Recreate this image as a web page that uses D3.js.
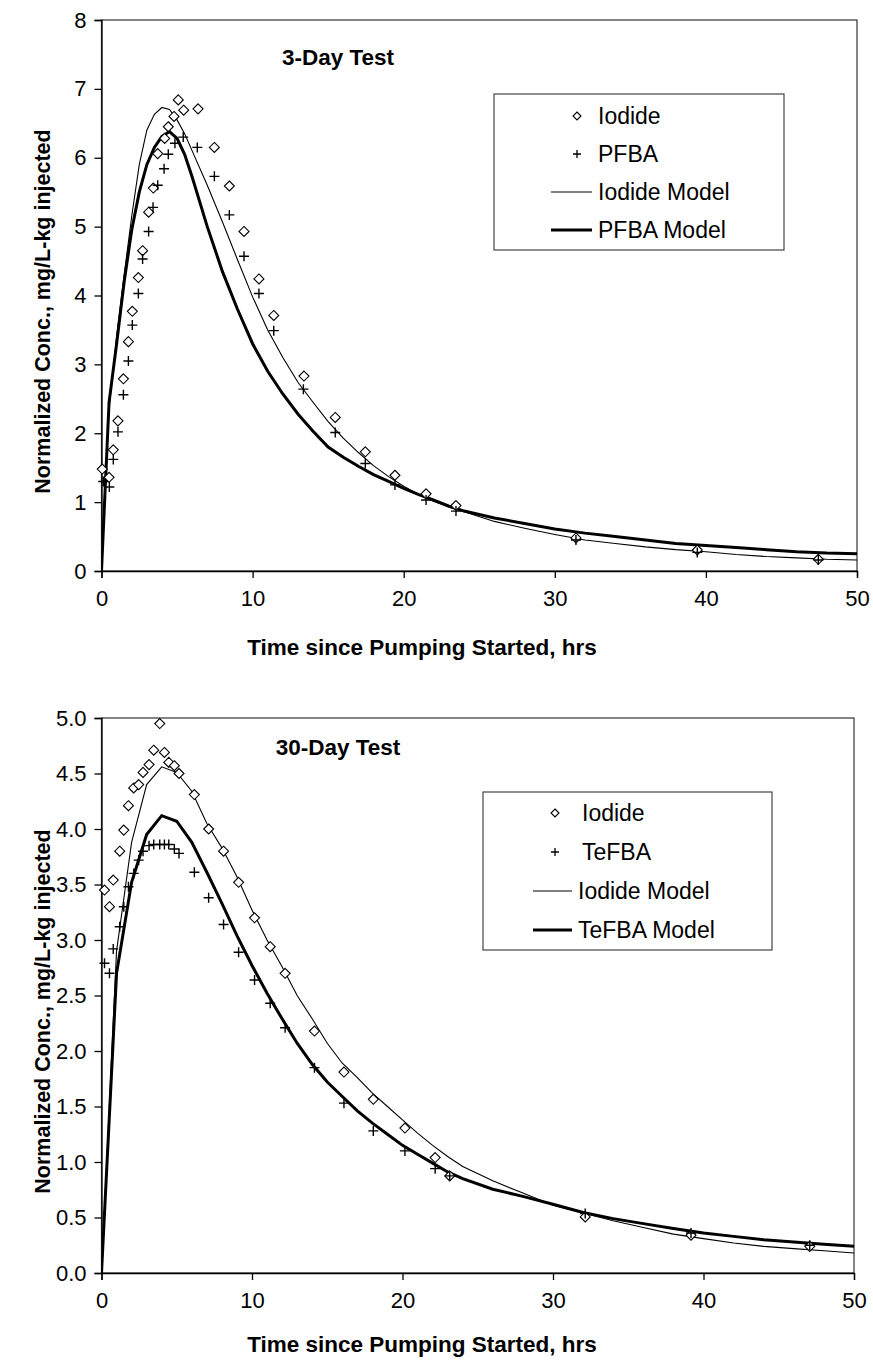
<!DOCTYPE html>
<html>
<head>
<meta charset="utf-8">
<script src="https://cdn.jsdelivr.net/npm/d3@7"></script>
<style>
  body { margin: 0; background: #fff; }
  svg { display: block; font-family: "Liberation Sans", Arial, sans-serif; }
  .axis path, .axis line { stroke: #000; stroke-width: 1.3; }
  .axis text { font-size: 22px; fill: #000; }
</style>
</head>
<body>
<div id="graphic"></div>
<script>
// ---- 3-day test data ----
var iodide3X = [0.05,0.5,0.78,1.09,1.45,1.78,2.04,2.44,2.72,3.12,3.43,3.72,4.18,4.42,4.80,5.08,5.44,6.39,7.47,8.46,9.43,10.42,11.40,13.4,15.47,17.46,19.42,21.48,23.46,31.4,39.43,47.44];
var iodide3Y = [1.48,1.36,1.76,2.18,2.79,3.33,3.77,4.26,4.65,5.21,5.56,6.06,6.28,6.45,6.60,6.84,6.69,6.71,6.15,5.59,4.93,4.24,3.71,2.83,2.23,1.73,1.39,1.12,0.95,0.48,0.305,0.17];
var pfbaX = [0.12,0.52,0.78,1.09,1.45,1.78,2.04,2.44,2.72,3.12,3.41,3.72,4.14,4.42,4.86,5.41,6.34,7.47,8.46,9.43,10.42,11.40,13.36,15.47,17.46,19.42,21.48,23.46,31.4,39.43,47.44];
var pfbaY = [1.30,1.22,1.62,2.02,2.56,3.05,3.57,4.03,4.53,4.93,5.28,5.60,5.84,6.05,6.21,6.30,6.15,5.73,5.17,4.57,4.03,3.49,2.64,2.01,1.56,1.25,1.03,0.87,0.45,0.27,0.16];

var model3X = [0,0.5,1,1.5,2,2.5,3,3.5,4,4.5,5,5.5,6,7,8,9,10,11,12,13,14,15,16,17,18,19,20,21,22,23,24,26,28,30,32,34,36,38,40,42,44,46,48,50];
var iodideModel3Y = [0,2.35,3.4,4.3,5.15,5.9,6.4,6.63,6.73,6.7,6.55,6.35,6.1,5.6,5.07,4.52,3.98,3.5,3.1,2.74,2.45,2.17,1.93,1.72,1.53,1.37,1.23,1.11,1.01,0.93,0.86,0.72,0.62,0.53,0.45,0.4,0.35,0.31,0.28,0.24,0.21,0.19,0.17,0.16];
var pfbaModel3Y = [0,2.45,3.3,4.2,4.95,5.5,5.9,6.15,6.31,6.38,6.28,6.05,5.72,5.0,4.35,3.8,3.3,2.9,2.57,2.28,2.03,1.8,1.65,1.52,1.4,1.3,1.2,1.11,1.03,0.94,0.87,0.77,0.69,0.61,0.55,0.5,0.45,0.4,0.37,0.34,0.31,0.28,0.26,0.25];

// ---- 30-day test data ----
var iodide30X = [0.2,0.53,0.78,1.21,1.48,1.79,2.14,2.47,2.76,3.16,3.47,3.87,4.18,4.47,4.84,5.15,6.17,7.12,8.11,9.11,10.17,11.21,12.2,14.15,16.11,18.06,20.16,22.17,23.14,32.14,39.17,47.06];
var iodide30Y = [3.45,3.30,3.54,3.80,3.99,4.21,4.37,4.40,4.51,4.58,4.71,4.95,4.69,4.60,4.57,4.50,4.31,4.00,3.80,3.52,3.20,2.94,2.70,2.18,1.81,1.565,1.306,1.04,0.875,0.505,0.34,0.24];
var tefbaX = [0.2,0.53,0.78,1.21,1.48,1.79,2.14,2.47,2.76,3.16,3.47,3.87,4.18,4.47,4.84,5.15,6.17,7.12,8.11,9.11,10.17,11.21,12.2,14.15,16.11,18.06,20.16,22.17,23.14,32.14,39.17,47.06];
var tefbaY = [2.79,2.70,2.92,3.12,3.30,3.48,3.60,3.72,3.80,3.85,3.86,3.86,3.86,3.86,3.82,3.78,3.61,3.38,3.14,2.89,2.64,2.43,2.21,1.85,1.53,1.28,1.10,0.94,0.875,0.535,0.36,0.25];

var model30X = [0,1,2,3,4,5,6,7,8,9,10,11,12,13,14,15,16,17,18,19,20,21,22,23,24,26,28,30,32,34,36,38,40,42,44,46,48,50];
var iodideModel30Y = [0,2.9,3.88,4.4,4.56,4.51,4.34,4.05,3.83,3.57,3.27,3.0,2.76,2.5,2.29,2.07,1.89,1.76,1.62,1.5,1.38,1.26,1.15,1.05,0.96,0.83,0.72,0.61,0.54,0.47,0.41,0.35,0.31,0.27,0.24,0.22,0.2,0.18];
var tefbaModel30Y = [0,2.7,3.52,3.95,4.12,4.07,3.88,3.61,3.33,3.04,2.77,2.52,2.29,2.07,1.88,1.72,1.59,1.46,1.35,1.25,1.15,1.07,0.99,0.91,0.85,0.755,0.69,0.62,0.545,0.49,0.445,0.4,0.36,0.33,0.3,0.28,0.26,0.24];

var xTicks = [0,10,20,30,40,50];
var yTicks3 = [0,1,2,3,4,5,6,7,8];
var yTicks30 = [0,0.5,1,1.5,2,2.5,3,3.5,4,4.5,5];

function zip(xs, ys) {
  return xs.map(function(x, i) { return {x: x, y: ys[i]}; });
}

var svg = d3.select("#graphic").append("svg")
  .attr("width", 873)
  .attr("height", 1364);

function drawChart(cfg) {
  var x = d3.scaleLinear().domain([0, 50]).range([cfg.left, cfg.right]);
  var y = d3.scaleLinear().domain([0, cfg.yMax]).range([cfg.bottom, cfg.top]);

  var g = svg.append("g");

  // plot area border
  g.append("rect")
    .attr("x", cfg.left).attr("y", cfg.top)
    .attr("width", cfg.right - cfg.left)
    .attr("height", cfg.bottom - cfg.top)
    .style("fill", "none")
    .style("stroke", "#333")
    .style("stroke-width", 1.2);

  g.append("g")
    .attr("class", "axis")
    .attr("transform", "translate(0," + cfg.bottom + ")")
    .call(d3.axisBottom(x).tickValues(xTicks).tickSizeOuter(0).tickSize(7).tickPadding(12));

  g.append("g")
    .attr("class", "axis")
    .attr("transform", "translate(" + cfg.left + ",0)")
    .call(d3.axisLeft(y).tickValues(cfg.yTicks).tickFormat(d3.format(cfg.yFmt))
      .tickSizeOuter(0).tickSize(7).tickPadding(8));

  var clip = "clip" + cfg.id;
  g.append("clipPath").attr("id", clip)
    .append("rect")
    .attr("x", cfg.left).attr("y", cfg.top - 10)
    .attr("width", cfg.right - cfg.left + 4)
    .attr("height", cfg.bottom - cfg.top + 10);

  var line = d3.line()
    .x(function(d) { return x(d.x); })
    .y(function(d) { return y(d.y); });

  var plot = g.append("g").attr("clip-path", "url(#" + clip + ")");

  plot.append("path")
    .datum(zip(cfg.modelX, cfg.model1))
    .attr("d", line)
    .style("fill", "none").style("stroke", "#000").style("stroke-width", 1.1);

  plot.append("path")
    .datum(zip(cfg.modelX, cfg.model2))
    .attr("d", line)
    .style("fill", "none").style("stroke", "#000").style("stroke-width", 3);

  // diamonds
  g.selectAll(".dia" + cfg.id)
    .data(zip(cfg.ptsX1, cfg.ptsY1))
    .enter().append("path")
    .attr("d", "M0,-5L5,0L0,5L-5,0Z")
    .attr("transform", function(d) { return "translate(" + x(d.x) + "," + y(d.y) + ")"; })
    .style("fill", "#fff").style("stroke", "#000").style("stroke-width", 1.1);

  // plus marks
  g.selectAll(".plus" + cfg.id)
    .data(zip(cfg.ptsX2, cfg.ptsY2))
    .enter().append("path")
    .attr("d", "M-5,0H5M0,-5V5")
    .attr("transform", function(d) { return "translate(" + x(d.x) + "," + y(d.y) + ")"; })
    .style("fill", "none").style("stroke", "#000").style("stroke-width", 1.4);

  // chart title
  g.append("text")
    .attr("x", cfg.titleX).attr("y", cfg.titleY)
    .attr("text-anchor", "middle")
    .style("font-size", "22.5px").style("font-weight", "bold")
    .text(cfg.title);

  // axis titles
  g.append("text")
    .attr("x", 422).attr("y", cfg.xTitleY)
    .attr("text-anchor", "middle")
    .style("font-size", "22.5px").style("font-weight", "bold")
    .text("Time since Pumping Started, hrs");

  g.append("text")
    .attr("transform", "translate(50," + ((cfg.top + cfg.bottom) / 2 + 16) + ") rotate(-90)")
    .attr("text-anchor", "middle")
    .style("font-size", "21.5px").style("font-weight", "bold")
    .text("Normalized Conc., mg/L-kg injected");

  // legend
  var L = cfg.legend;
  g.append("rect")
    .attr("x", L.x).attr("y", L.y).attr("width", L.w).attr("height", L.h)
    .style("fill", "#fff").style("stroke", "#444").style("stroke-width", 1.2);

  var items = g.selectAll(".leg" + cfg.id)
    .data(cfg.names)
    .enter().append("g")
    .attr("transform", function(d, i) { return "translate(0," + L.rows[i] + ")"; });

  items.each(function(d, i) {
    var it = d3.select(this);
    if (i === 0) {
      it.append("path").attr("d", "M0,-4L4,0L0,4L-4,0Z")
        .attr("transform", "translate(" + L.markX + ",0)")
        .style("fill", "#fff").style("stroke", "#000").style("stroke-width", 1.1);
    } else if (i === 1) {
      it.append("path").attr("d", "M-4,0H4M0,-4V4")
        .attr("transform", "translate(" + L.markX + ",0)")
        .style("stroke", "#000").style("stroke-width", 1.3);
    } else {
      it.append("line")
        .attr("x1", L.lineX1).attr("x2", L.lineX2)
        .style("stroke", "#000").style("stroke-width", i === 2 ? 1.1 : 3);
    }
    it.append("text")
      .attr("x", i < 2 ? L.textX : L.lineX2 + 6)
      .attr("dy", "0.36em")
      .style("font-size", "23px")
      .text(d);
  });
}

drawChart({
  id: 1, left: 101.5, right: 857, top: 20, bottom: 571, yMax: 8,
  yTicks: yTicks3, yFmt: "d",
  modelX: model3X, model1: iodideModel3Y, model2: pfbaModel3Y,
  ptsX1: iodide3X, ptsY1: iodide3Y, ptsX2: pfbaX, ptsY2: pfbaY,
  title: "3-Day Test", titleX: 338, titleY: 65, xTitleY: 655,
  names: ["Iodide", "PFBA", "Iodide Model", "PFBA Model"],
  legend: {x: 494, y: 94, w: 290, h: 156, rows: [116, 154, 192, 230], markX: 577, textX: 598, lineX1: 551, lineX2: 592}
});

drawChart({
  id: 2, left: 101.5, right: 854, top: 718, bottom: 1273, yMax: 5,
  yTicks: yTicks30, yFmt: ".1f",
  modelX: model30X, model1: iodideModel30Y, model2: tefbaModel30Y,
  ptsX1: iodide30X, ptsY1: iodide30Y, ptsX2: tefbaX, ptsY2: tefbaY,
  title: "30-Day Test", titleX: 338, titleY: 755, xTitleY: 1352,
  names: ["Iodide", "TeFBA", "Iodide Model", "TeFBA Model"],
  legend: {x: 483, y: 792, w: 289, h: 158, rows: [813, 852, 891, 930], markX: 555, textX: 582, lineX1: 533, lineX2: 572}
});
</script>
</body>
</html>
